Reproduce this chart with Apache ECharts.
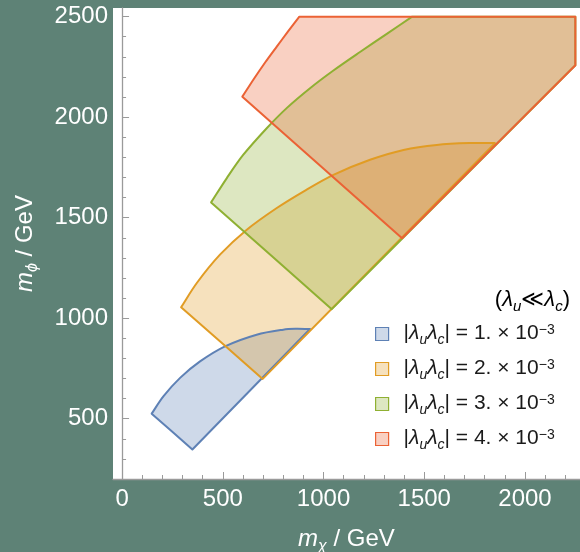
<!DOCTYPE html>
<html><head><meta charset="utf-8">
<script src="https://cdn.jsdelivr.net/npm/echarts@6/dist/echarts.min.js"></script>
<style>html,body{margin:0;padding:0;background:#5e8276;}#c{width:580px;height:552px;}</style>
</head><body><div id="c"></div>
<script>
// ---- data (m_chi, m_phi) in GeV, boundaries ----
const couplingLabels = ['1.', '2.', '3.', '4.'];
const colors = ['#5e81b5', '#e19c24', '#8fb032', '#eb6235'];
const fills = ['rgba(94,129,181,0.3)', 'rgba(225,156,36,0.3)', 'rgba(143,176,50,0.3)', 'rgba(235,98,53,0.3)'];

// straight edges: left vertex -> bottom vertex -> diagonal -> (clip edges) -> start of arc
const region1Edges = [[147,525],[349,347],[933,946]];
// curved edge: from the end of the straight edges back toward the left vertex (interior points)
const region1Arc = [[860,947],[800,943],[668,918],[511,860],[387,785],[288,703],[205,611]];

const region2Edges = [[293,1054],[698,698],[1851,1871]];
const region2Arc = [[1727,1871],[1562,1862],[1397,1837],[1231,1788],[1049,1713],[900,1630],[768,1548],[619,1440],[486,1316],[371,1175]];

const region3Edges = [[442,1576],[1041,1045],[2250,2258],[2250,2500],[1440,2500]];
const region3Arc = [[1314,2414],[1181,2324],[1049,2232],[933,2144],[817,2045],[718,1945],[602,1813],[520,1697]];

const region4Edges = [[597,2102],[1390,1398],[2250,2258],[2250,2500],[880,2500]];
const region4Arc = [[823,2425],[767,2350],[710,2272],[654,2190]];

const regions = [[region1Edges, region1Arc], [region2Edges, region2Arc], [region3Edges, region3Arc], [region4Edges, region4Arc]];

const xMajorTicks = [0, 500, 1000, 1500, 2000];
const xMinorTicks = [0,100,200,300,400,500,600,700,800,900,1000,1100,1200,1300,1400,1500,1600,1700,1800,1900,2000,2100,2200];
const yMajorTicks = [500, 1000, 1500, 2000, 2500];
const yMinorTicks = [300,400,500,600,700,800,900,1000,1100,1200,1300,1400,1500,1600,1700,1800,1900,2000,2100,2200,2300,2400,2500];

const X_MIN = -45, X_MAX = 2273, Y_MIN = 200, Y_MAX = 2543;
const FONT = '"Liberation Sans", Arial, sans-serif';

function makeRender(edges, arc, style) {
  return function (params, api) {
    if (params.dataIndex !== 0) return null;
    const pts = [];
    // corners are doubled so the library's bezier smoothing keeps them sharp
    edges.forEach(p => { const c = api.coord(p); pts.push(c, c.slice()); });
    arc.forEach(p => pts.push(api.coord(p)));
    return { type: 'polygon', shape: { points: pts, smooth: 0.33 }, style: style };
  };
}

const series = [];
regions.forEach((r, i) => {
  series.push({
    type: 'custom', name: couplingLabels[i], data: r[0].concat(r[1]), z: 2, silent: true,
    itemStyle: { color: colors[i] },
    renderItem: makeRender(r[0], r[1], { fill: fills[i], stroke: null, lineWidth: 0 })
  });
});
regions.forEach((r, i) => {
  series.push({
    type: 'custom', name: couplingLabels[i], data: r[0].concat(r[1]), z: 3, silent: true,
    itemStyle: { color: colors[i] },
    renderItem: makeRender(r[0], r[1], { fill: 'none', stroke: colors[i], lineWidth: 2, lineJoin: 'round' })
  });
});

const axisGray = '#9a9a9a';
const TXT = '#1a1a1a';
const baseRich = {
  n: { fontSize: 21, fontFamily: FONT, color: TXT, lineHeight: 22, verticalAlign: 'top' },
  l: { fontSize: 21, fontFamily: FONT, fontStyle: 'italic', color: TXT, lineHeight: 22, verticalAlign: 'top' },
  s: { fontSize: 14, fontFamily: FONT, fontStyle: 'italic', color: TXT, lineHeight: 13, padding: [10, 0, 0, 0], verticalAlign: 'top' },
  p: { fontSize: 14, fontFamily: FONT, color: TXT, lineHeight: 13, verticalAlign: 'top' },
  g: { width: 10 }
};
const titleRich = {
  n: Object.assign({}, baseRich.n, { fontSize: 22 }),
  l: Object.assign({}, baseRich.l, { fontSize: 22 }),
  s: Object.assign({}, baseRich.s, { fontSize: 15 })
};
const nameRich = {
  m: { fontSize: 24, fontFamily: FONT, fontStyle: 'italic', color: '#fff', lineHeight: 26, verticalAlign: 'top' },
  s: { fontSize: 16, fontFamily: FONT, fontStyle: 'italic', color: '#fff', lineHeight: 15, padding: [12, 0, 0, 0], verticalAlign: 'top' },
  t: { fontSize: 24, fontFamily: FONT, color: '#fff', lineHeight: 26, verticalAlign: 'top' }
};

const option = {
  backgroundColor: '#5e8276',
  animation: false,
  grid: { left: 113, top: 8, width: 467, height: 471, show: true, backgroundColor: '#ffffff', borderWidth: 0,
          containLabel: false, outerBoundsMode: 'none' },
  xAxis: [
    {
      type: 'value', min: X_MIN, max: X_MAX, position: 'bottom',
      axisLine: { show: true, lineStyle: { color: axisGray, width: 1.3 } },
      axisTick: { show: true, inside: true, length: 7, customValues: xMajorTicks, lineStyle: { color: axisGray } },
      axisLabel: { customValues: xMajorTicks, formatter: v => String(v), color: '#ffffff', fontSize: 24, fontFamily: FONT, margin: 8 },
      splitLine: { show: false },
      name: '{m|m}{s|χ}{t| / GeV}', nameLocation: 'middle', nameGap: 48,
      nameTextStyle: { rich: nameRich }
    },
    {
      type: 'value', min: X_MIN, max: X_MAX, position: 'bottom',
      axisLine: { show: false },
      axisTick: { show: true, inside: true, length: 4, customValues: xMinorTicks, lineStyle: { color: axisGray } },
      axisLabel: { show: false }, splitLine: { show: false }
    }
  ],
  yAxis: [
    {
      type: 'value', min: Y_MIN, max: Y_MAX, position: 'left',
      axisLine: { show: true, lineStyle: { color: axisGray, width: 1.3 } },
      axisTick: { show: true, inside: true, length: 7, customValues: yMajorTicks, lineStyle: { color: axisGray } },
      axisLabel: { customValues: yMajorTicks, formatter: v => String(v), color: '#ffffff', fontSize: 24, fontFamily: FONT, margin: 5 },
      splitLine: { show: false },
      name: '{m|m}{s|ϕ}{t| / GeV}', nameLocation: 'middle', nameGap: 74, nameRotate: 90,
      nameTextStyle: { rich: nameRich }
    },
    {
      type: 'value', min: Y_MIN, max: Y_MAX, position: 'left',
      axisLine: { show: false },
      axisTick: { show: true, inside: true, length: 4, customValues: yMinorTicks, lineStyle: { color: axisGray } },
      axisLabel: { show: false }, splitLine: { show: false }
    }
  ],
  legend: {
    orient: 'vertical', left: 370, top: 318, itemWidth: 13, itemHeight: 13, itemGap: 11,
    selectedMode: false,
    data: couplingLabels.map((n, i) => ({ name: n, icon: 'rect', itemStyle: { color: fills[i], borderColor: colors[i], borderWidth: 1.2 } })),
    formatter: name => `{g|}{n||}{l|λ}{s|u}{l|λ}{s|c}{n|| = ${name} × 10}{p|−3}`,
    textStyle: { rich: baseRich }
  },
  graphic: [{
    type: 'text', right: 10, top: 289,
    style: {
      text: '{n|(}{l|λ}{s|u}{n|≪}{l|λ}{s|c}{n|)}',
      rich: titleRich
    }
  }],
  series: series
};
series.forEach(s => { s.xAxisIndex = 0; s.yAxisIndex = 0; });
const chart = echarts.init(document.getElementById('c'), null, { renderer: 'canvas' });
chart.setOption(option);
</script></body></html>
